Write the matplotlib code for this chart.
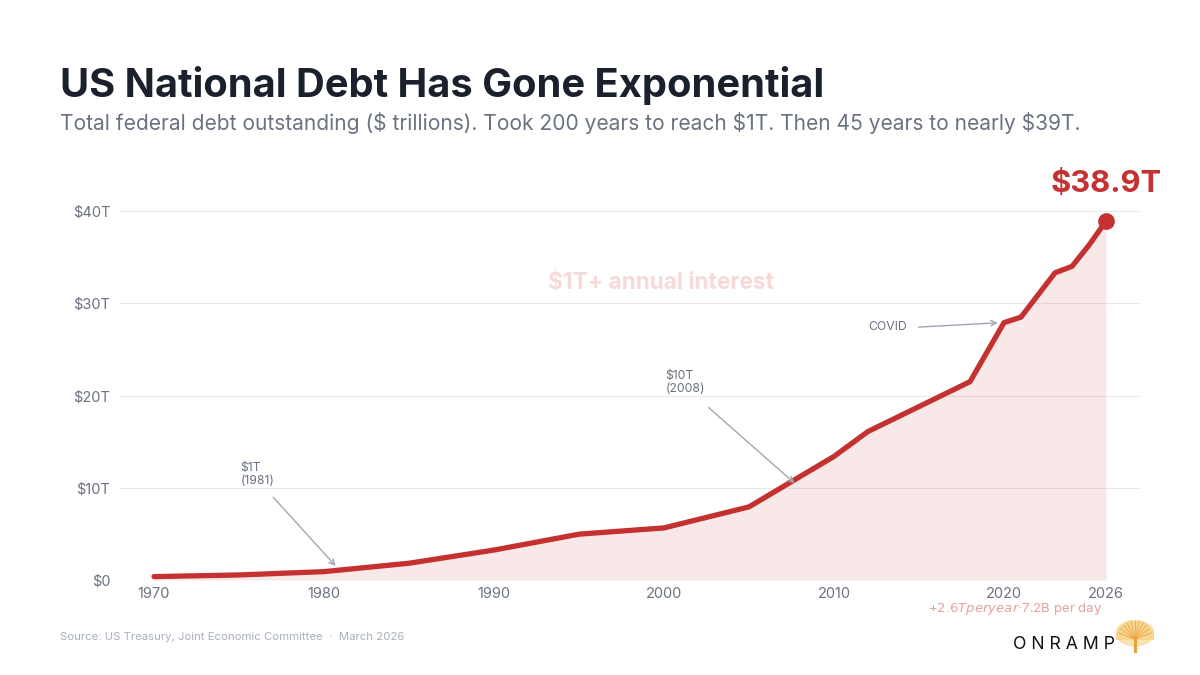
import numpy as np
import matplotlib.pyplot as plt
import matplotlib.patches as mpatches

plt.rcParams['font.family'] = ['Inter', 'DejaVu Sans']

# Total federal debt outstanding, $ trillions
years = [1970, 1975, 1980, 1985, 1990, 1995, 2000, 2005, 2010, 2012, 2018,
         2020, 2021, 2022, 2023, 2024, 2025, 2026]
debt = [0.37, 0.55, 0.91, 1.82, 3.25, 4.97, 5.65, 7.93, 13.4, 16.1, 21.5,
        27.9, 28.5, 30.9, 33.3, 34.0, 36.3, 38.9]

xticks = [1970, 1980, 1990, 2000, 2010, 2020, 2026]
yticks = [0, 10, 20, 30, 40]
ytick_labels = ["$0", "$10T", "$20T", "$30T", "$40T"]

RED = "#c53030"
GRAY = "#6b7280"

fig = plt.figure(figsize=(12, 6.75), dpi=100)
ax = fig.add_axes([0.10, 0.1407, 0.85, 0.5877])

ax.fill_between(years, debt, 0, color=RED, alpha=0.11, linewidth=0)
ax.plot(years, debt, color=RED, linewidth=3.8, solid_capstyle="round", zorder=3)
ax.plot(years[-1], debt[-1], "o", color=RED, markersize=11, zorder=4)

ax.set_xlim(1968, 2028)
ax.set_ylim(0, 43)
ax.set_xticks(xticks)
ax.set_xticklabels([str(y) for y in xticks])
ax.set_yticks(yticks)
ax.set_yticklabels(ytick_labels)
ax.tick_params(length=0, labelsize=10.5, labelcolor=GRAY)
ax.tick_params(axis="y", pad=7)
ax.tick_params(axis="x", pad=5)
ax.grid(axis="y", color="#e6e9ee", linewidth=0.8)
ax.set_axisbelow(True)
for s in ax.spines.values():
    s.set_visible(False)

# end value
ax.text(years[-1], 41.4, "$38.9T", color=RED, fontsize=22.3, fontweight="bold",
        ha="center", va="bottom")

# background label
ax.text(1999.8, 32.2, "$1T+ annual interest", color="#f7d9d9", fontsize=16.3,
        fontweight="bold", ha="center", va="center")

# annotations
arrow = dict(arrowstyle="->", color="#a0a7b2", lw=1.0)
ax.text(1975.1, 12.8, "$1T\n(1981)", color=GRAY, fontsize=8.8, va="top",
        linespacing=1.1)
ax.annotate("", xy=(1980.8, 1.3), xytext=(1976.9, 9.2), arrowprops=arrow)
ax.text(2000.1, 22.8, "$10T\n(2008)", color=GRAY, fontsize=8.8, va="top",
        linespacing=1.1)
ax.annotate("", xy=(2007.8, 10.3), xytext=(2002.5, 18.9), arrowprops=arrow)
ax.text(2012.0, 27.4, "COVID", color=GRAY, fontsize=8.8, va="center")
ax.annotate("", xy=(2019.8, 27.9), xytext=(2014.8, 27.4), arrowprops=arrow)

# rate note
ax.text(2025.8, -2.3, "+$2.6T per year · $7.2B per day", color="#e3a0a0",
        fontsize=9.5, ha="right", va="top")

# titles
fig.text(0.05, 1 - 97 / 675, "US National Debt Has Gone Exponential",
         fontsize=28.7, fontweight="bold", color="#1a202c", va="baseline")
fig.text(0.05, 1 - 130 / 675,
         "Total federal debt outstanding ($ trillions). Took 200 years to reach $1T. "
         "Then 45 years to nearly $39T.",
         fontsize=15.1, color=GRAY, va="baseline")
fig.text(0.05, 1 - 640 / 675,
         "Source: US Treasury, Joint Economic Committee  ·  March 2026",
         fontsize=8.2, color="#a9b0bb", va="baseline")

# logo
fig.text(1115 / 1200, 1 - 649 / 675, "O N R A M P", fontsize=12.7,
         color="#111111", ha="right", va="baseline")
lax = fig.add_axes([1116 / 1200, 1 - 653 / 675, 38 / 1200, 36 / 675])
lax.set_xlim(0, 1)
lax.set_ylim(0, 1)
lax.axis("off")
lax.add_patch(mpatches.Wedge((0.5, 0.38), 0.5, 0, 180, color="#f7d38a", alpha=0.8))
lax.add_patch(mpatches.Ellipse((0.5, 0.55), 1.0, 0.7, color="#f7d38a", alpha=0.6))
for a in np.linspace(20, 160, 11):
    r = np.radians(a)
    lax.plot([0.5, 0.5 + 0.45 * np.cos(r)], [0.38, 0.38 + 0.52 * np.sin(r)],
             color="#eaa93a", lw=0.6)
lax.plot([0.5, 0.5], [0.0, 0.42], color="#e8a233", lw=2.2)

fig.savefig("out.png", dpi=100)
